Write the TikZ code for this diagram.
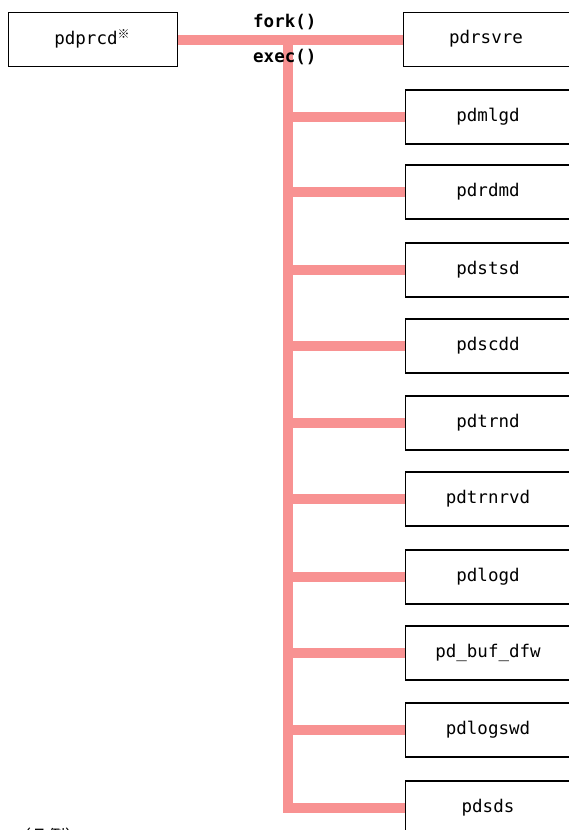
\documentclass[tikz,border=0pt]{standalone}
\usepackage{fontspec}
\setmainfont{DejaVu Sans Mono}
\newfontfamily\cjkfont{Noto Sans CJK JP}
\definecolor{linkpink}{RGB}{248,146,146}
\begin{document}
\begin{tikzpicture}[x=1pt,y=-1pt,
  proc/.style={draw=black,line width=1.4pt,fill=white,minimum height=54pt,inner sep=0pt},
  link/.style={draw=linkpink,line width=10pt},
  lbl/.style={font=\fontsize{17.5}{20}\selectfont,inner sep=0pt}]
\useasboundingbox (0,0) rectangle (569,830);
\clip (0,0) rectangle (569,830);
% boxes
\node[proc,minimum width=169pt,anchor=north west] (prcd) at (8,12) {};
\node[lbl] at (92,39) {pdprcd\raisebox{0.3em}{\cjkfont\fontsize{12}{12}\selectfont ※}};
\node[proc,minimum width=180pt,anchor=north west] (rsvre) at (403,12) {};
\node[lbl] at (486,39) {pdrsvre};
\coordinate (junc) at (288,40);
\coordinate (bottom) at (288,808);
% pink connectors
\draw[link] (prcd.east) -- (rsvre.west);
\draw[link,line cap=rect] (junc) -- (bottom);
\foreach \name/\yy in {pdmlgd/117,pdrdmd/192,pdstsd/270,pdscdd/346,pdtrnd/423,pdtrnrvd/499,pdlogd/577,pd\_buf\_dfw/653,pdlogswd/730,pdsds/808}{
  \node[proc,minimum width=180pt,anchor=west] (b\yy) at (405,\yy) {};
  \node[lbl] at (488,\yy) {\name};
  \coordinate (j\yy) at (288,\yy);
  \draw[link] (j\yy) -- (b\yy.west);
}
\node[lbl,anchor=west,font=\fontsize{17.5}{20}\selectfont\bfseries] (fork) at (253,22) {fork()};
\node[lbl,anchor=west,font=\fontsize{17.5}{20}\selectfont\bfseries] (exec) at (253,57) {exec()};
\node[lbl,anchor=west,font=\cjkfont\fontsize{17}{20}\selectfont] (legend) at (14,836) {（凡例）};
\end{tikzpicture}
\end{document}
